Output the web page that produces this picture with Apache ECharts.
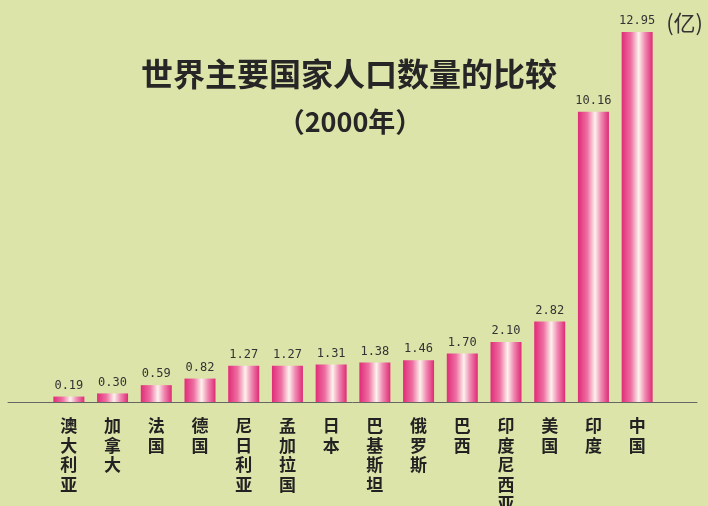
<!DOCTYPE html>
<html>
<head>
<meta charset="utf-8">
<script src="https://cdn.jsdelivr.net/npm/echarts@6/dist/echarts.min.js"></script>
<style>
    html, body { margin: 0; padding: 0; }
    #chart_main { width: 708px; height: 506px; background-color: #dde4aa; }
</style>
</head>
<body>
<div id="chart_main"></div>
<script>
// 国家 (从小到大)
var countries = ['澳大利亚', '加拿大', '法国', '德国', '尼日利亚', '孟加拉国', '日本', '巴基斯坦', '俄罗斯', '巴西', '印度尼西亚', '美国', '印度', '中国'];
// 人口 (亿)
var population = [0.19, 0.30, 0.59, 0.82, 1.27, 1.27, 1.31, 1.38, 1.46, 1.70, 2.10, 2.82, 10.16, 12.95];

var titleText = '世界主要国家人口数量的比较';
var subTitleText = '（2000年）';
var unitText = '(亿)';

var myChart = echarts.init(document.getElementById('chart_main'));

// 柱子的粉色渐变
var barColor = new echarts.graphic.LinearGradient(0, 0, 1, 0, [
    { offset: 0, color: '#e02c78' },
    { offset: 0.3, color: '#ee6fa2' },
    { offset: 0.55, color: '#fcf2ec' },
    { offset: 0.75, color: '#f08ab2' },
    { offset: 1, color: '#de2a76' }
]);

var option = {
    backgroundColor: '#dde4aa',
    title: [
        {
            text: titleText,
            left: 344,
            top: 53,
            textAlign: 'center',
            textStyle: {
                fontFamily: 'Noto Sans CJK SC',
                fontWeight: 'bold',
                fontSize: 32,
                color: '#262626'
            }
        },
        {
            text: subTitleText,
            left: 345,
            top: 103,
            textAlign: 'center',
            textStyle: {
                fontFamily: 'Noto Sans CJK SC',
                fontWeight: 'bold',
                fontSize: 27,
                color: '#262626'
            }
        },
        {
            text: unitText,
            right: 0,
            top: 7,
            textStyle: {
                fontFamily: 'Noto Sans CJK SC',
                fontWeight: 'normal',
                fontSize: 22,
                color: '#333'
            }
        }
    ],
    grid: [
        { left: 47, right: 49, top: 32, bottom: 104, outerBoundsMode: 'none', containLabel: false },
        { left: 8, right: 11, top: 32, bottom: 104, outerBoundsMode: 'none', containLabel: false }
    ],
    xAxis: [
        {
            type: 'category',
            data: countries,
            gridIndex: 0,
            axisLine: { show: false },
            axisTick: { show: false },
            axisLabel: {
                interval: 0,
                margin: 14,
                fontFamily: 'Noto Sans CJK SC',
                fontWeight: 'bold',
                fontSize: 17,
                lineHeight: 19.5,
                color: '#222',
                verticalAlign: 'top',
                formatter: function (v) {
                    return v.split('').join('\n');
                }
            }
        },
        {
            // 横线比柱区更长
            type: 'value',
            gridIndex: 1,
            min: 0,
            max: 1,
            axisLine: { show: true, lineStyle: { color: '#666', width: 1 } },
            axisTick: { show: false },
            axisLabel: { show: false },
            splitLine: { show: false }
        }
    ],
    yAxis: [
        { type: 'value', gridIndex: 0, min: 0, max: 'dataMax', show: false },
        { type: 'value', gridIndex: 1, show: false }
    ],
    series: [
        {
            type: 'bar',
            data: population,
            barWidth: 31,
            itemStyle: { color: barColor },
            label: {
                show: true,
                position: 'top',
                distance: 5,
                fontFamily: 'DejaVu Sans Mono',
                fontSize: 12,
                color: '#333',
                formatter: function (p) {
                    return p.value.toFixed(2);
                }
            }
        }
    ]
};
myChart.setOption(option);
</script>
</body>
</html>
